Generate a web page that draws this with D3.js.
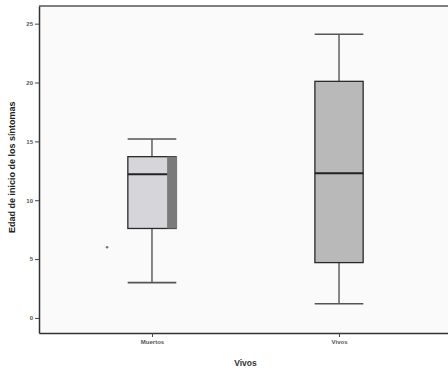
<!DOCTYPE html>
<html>
<head>
<meta charset="utf-8">
<script src="https://cdn.jsdelivr.net/npm/d3@7"></script>
<style>
    body { margin: 0; background: #fff; }
    svg { display: block; font-family: Arial, "Liberation Sans", sans-serif; }
</style>
</head>
<body>
<div id="chart"></div>
<script>
'use strict';

// data
var groups = ['Muertos', 'Vivos'];
var whiskerLow = [3, 1.2];
var quartile1 = [7.6, 4.7];
var medians = [12.2, 12.3];
var quartile3 = [13.7, 20.1];
var whiskerHigh = [15.2, 24.1];
var outliers = [[6], []];
var yTicks = [0, 5, 10, 15, 20, 25];

var width = 448, height = 375;
var margin = { top: 6, right: -4, bottom: 42, left: 39 };

var svg = d3.select('#chart').append('svg')
    .attr('width', width)
    .attr('height', height);

var x = d3.scalePoint()
    .domain(groups)
    .range([margin.left, width - margin.right])
    .padding(0.604);

var y = d3.scaleLinear()
    .domain([-1.28, 26.5])
    .range([height - margin.bottom, margin.top]);

var boxW = x.step() * 0.258;
var capW = x.step() * 0.13;
var fills = ['#d6d6da', '#b9b9b9'];

// plot background
svg.append('rect')
    .attr('x', margin.left).attr('y', margin.top)
    .attr('width', width - margin.left - margin.right)
    .attr('height', height - margin.top - margin.bottom)
    .style('fill', '#fafafa');

var g = svg.selectAll('g.box')
    .data(groups)
    .enter().append('g')
    .attr('class', 'box');

g.append('line')
    .attr('x1', function(d) { return x(d); })
    .attr('x2', function(d) { return x(d); })
    .attr('y1', function(d, i) { return y(whiskerLow[i]); })
    .attr('y2', function(d, i) { return y(whiskerHigh[i]); })
    .style('stroke', '#555').style('stroke-width', 1.4);

[whiskerLow, whiskerHigh].forEach(function(arr) {
    g.append('line')
        .attr('x1', function(d) { return x(d) - capW; })
        .attr('x2', function(d) { return x(d) + capW; })
        .attr('y1', function(d, i) { return y(arr[i]); })
        .attr('y2', function(d, i) { return y(arr[i]); })
        .style('stroke', '#555').style('stroke-width', 1.6);
});

g.append('rect')
    .attr('x', function(d) { return x(d) - boxW / 2; })
    .attr('y', function(d, i) { return y(quartile3[i]); })
    .attr('width', boxW)
    .attr('height', function(d, i) { return y(quartile1[i]) - y(quartile3[i]); })
    .style('fill', function(d, i) { return fills[i]; })
    .style('stroke', '#2a2a2a').style('stroke-width', 1.3);

// dark scan shadow on the right of the first box
svg.append('rect')
    .attr('x', x(groups[0]) + boxW / 2 - 9)
    .attr('y', y(quartile3[0]))
    .attr('width', 10)
    .attr('height', y(quartile1[0]) - y(quartile3[0]))
    .style('fill', '#7a7a7a');

g.append('line')
    .attr('x1', function(d) { return x(d) - boxW / 2; })
    .attr('x2', function(d) { return x(d) + boxW / 2; })
    .attr('y1', function(d, i) { return y(medians[i]); })
    .attr('y2', function(d, i) { return y(medians[i]); })
    .style('stroke', '#222').style('stroke-width', 2);

groups.forEach(function(grp, i) {
    svg.selectAll(null)
        .data(outliers[i])
        .enter().append('circle')
        .attr('cx', x(grp) - x.step() * 0.24)
        .attr('cy', function(v) { return y(v); })
        .attr('r', 1.3)
        .style('fill', '#777');
});

// axes
var yAxis = svg.append('g')
    .attr('transform', 'translate(' + margin.left + ',0)')
    .call(d3.axisLeft(y).tickValues(yTicks).tickSize(4).tickSizeOuter(0).tickPadding(2));

var xAxis = svg.append('g')
    .attr('transform', 'translate(0,' + (height - margin.bottom) + ')')
    .call(d3.axisBottom(x).tickSize(4).tickSizeOuter(0).tickPadding(3));

[yAxis, xAxis].forEach(function(ax) {
    ax.select('.domain').style('stroke', '#333').style('stroke-width', 1.5);
    ax.selectAll('.tick line').style('stroke', '#444');
    ax.selectAll('.tick text')
        .style('font-size', '6px')
        .style('font-weight', 'bold')
        .style('fill', '#555');
});

// top frame line
svg.append('line')
    .attr('x1', margin.left).attr('x2', width)
    .attr('y1', margin.top).attr('y2', margin.top)
    .style('stroke', '#555').style('stroke-width', 1.5);

svg.append('text')
    .attr('x', (x(groups[0]) + x(groups[1])) / 2)
    .attr('y', 366)
    .attr('text-anchor', 'middle')
    .style('font-size', '8.5px')
    .style('font-weight', 'bold')
    .style('fill', '#333')
    .text('Vivos');

svg.append('text')
    .attr('transform', 'translate(15,' + y(12.8) + ') rotate(-90)')
    .attr('text-anchor', 'middle')
    .style('font-size', '9px')
    .style('font-weight', 'bold')
    .style('fill', '#222')
    .text('Edad de inicio de los síntomas');
</script>
</body>
</html>
